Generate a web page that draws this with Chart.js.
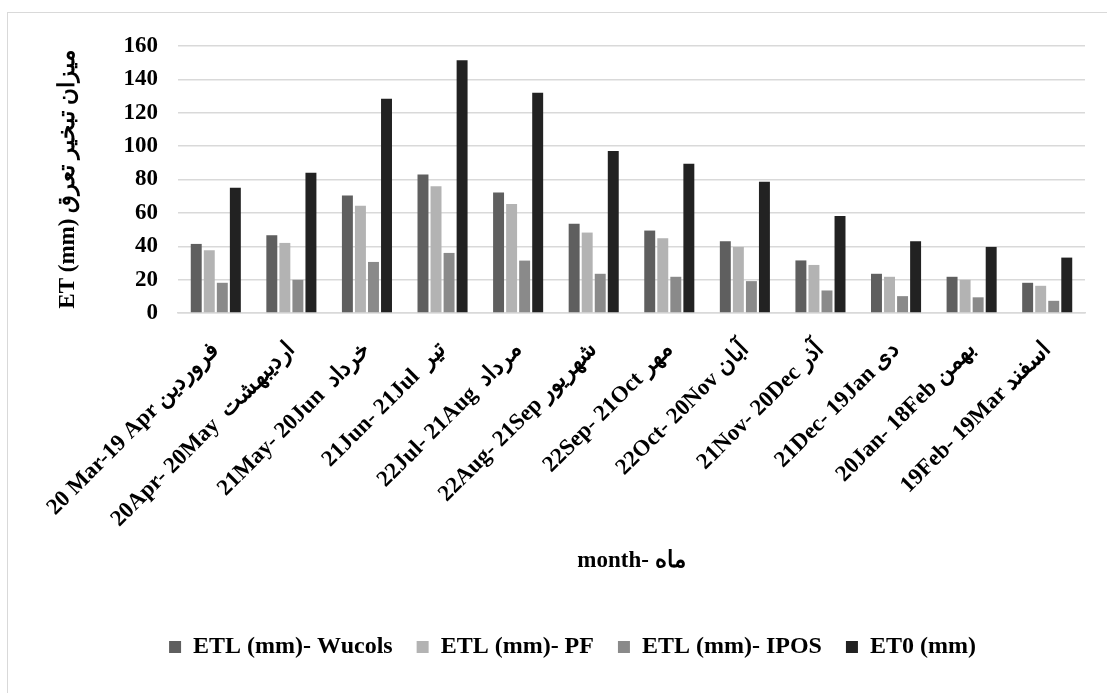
<!DOCTYPE html>
<html>
<head>
<meta charset="utf-8">
<script src="https://cdn.jsdelivr.net/npm/chart.js@4/dist/chart.umd.min.js"></script>
<style>
  html, body { margin: 0; padding: 0; background: #ffffff; overflow: hidden; }
  #wrap { position: relative; width: 1107px; height: 693px; }
  #frame { position: absolute; left: 7px; top: 12px; width: 1120px; height: 700px; border: 1px solid #d9d9d9; box-sizing: border-box; }
  canvas { position: absolute; left: 0; top: 0; }
</style>
</head>
<body>
<div id="wrap">
  <div id="frame"></div>
  <canvas id="c" width="1107" height="693"></canvas>
</div>
<script>
// Monthly evapotranspiration (mm) by Persian calendar month
const months = [
  '20 Mar-19 Apr فروردین',
  '20Apr- 20May  اردیبهشت',
  '21May- 20Jun  خرداد',
  '21Jun- 21Jul  تیر',
  '22Jul- 21Aug  مرداد',
  '22Aug- 21Sep شهریور',
  '22Sep- 21Oct مهر',
  '22Oct- 20Nov آبان',
  '21Nov- 20Dec آذر',
  '21Dec- 19Jan دی',
  '20Jan- 18Feb بهمن',
  '19Feb- 19Mar اسفند'
];
const seriesNames = ['ETL (mm)- Wucols', 'ETL (mm)- PF', 'ETL (mm)- IPOS', 'ET0 (mm)'];
const etlWucols = [41.4, 46.6, 70.4, 83.0, 72.2, 53.5, 49.4, 43.0, 31.5, 23.5, 21.7, 18.1];
const etlPF     = [37.6, 42.0, 64.3, 76.0, 65.3, 48.2, 44.8, 39.6, 28.8, 21.7, 19.9, 16.3];
const etlIPOS   = [18.1, 19.9, 30.6, 36.0, 31.4, 23.5, 21.7, 19.1, 13.5, 10.1, 9.4, 7.3];
const et0       = [75.0, 84.0, 128.4, 151.5, 132.0, 97.1, 89.4, 78.6, 58.1, 43.0, 39.6, 33.2];
const yTicks = [0, 20, 40, 60, 80, 100, 120, 140, 160];
const yTitle = 'ET (mm) میزان تبخیر تعرق';
const xTitle = 'month- ماه';

const seriesColors = ['#5f5f5f', '#b3b3b3', '#8a8a8a', '#222222'];
const FONT = "'Liberation Serif', 'Times New Roman', serif";

// nudge the legend row a little to the right of the canvas centre
const legendShift = {
  id: 'legendShift',
  afterLayout(c) {
    if (c.legend) { c.legend.left += 25; c.legend.right += 25; }
  }
};

const chart = new Chart(document.getElementById('c'), {
  type: 'bar',
  data: {
    labels: months,
    datasets: [etlWucols, etlPF, etlIPOS, et0].map((d, i) => ({
      label: seriesNames[i],
      data: d,
      backgroundColor: seriesColors[i],
      borderWidth: 0,
      categoryPercentage: 0.69,
      barPercentage: 0.84
    }))
  },
  plugins: [legendShift],
  options: {
    responsive: false,
    animation: false,
    devicePixelRatio: 1,
    layout: { padding: { left: 10, top: 46, right: 22, bottom: 24 } },
    plugins: {
      tooltip: { enabled: false },
      legend: {
        position: 'bottom',
        labels: {
          boxWidth: 12,
          boxHeight: 12,
          padding: 24,
          color: '#000',
          font: { family: FONT, size: 24, weight: 'bold' }
        }
      }
    },
    scales: {
      x: {
        grid: { display: false, drawTicks: false },
        border: { display: true, color: '#d9d9d9', width: 1.5 },
        ticks: {
          autoSkip: false,
          maxRotation: 45,
          minRotation: 45,
          padding: 24,
          color: '#000',
          font: { family: FONT, size: 23, weight: 'bold' }
        },
        title: {
          display: true,
          text: xTitle,
          color: '#000',
          padding: { top: 0, bottom: 36 },
          font: { family: FONT, size: 23, weight: 'bold' }
        },
        afterFit: (s) => { s.height = 298; }
      },
      y: {
        min: 0,
        max: 160,
        afterBuildTicks: (s) => { s.ticks = yTicks.map(v => ({ value: v })); },
        grid: { color: '#d9d9d9', lineWidth: 1.5, drawTicks: false },
        border: { display: false },
        ticks: {
          padding: 20,
          color: '#000',
          font: { family: FONT, size: 23, weight: 'bold' }
        },
        title: {
          display: true,
          text: yTitle,
          color: '#000',
          padding: { top: 44, bottom: 0 },
          font: { family: FONT, size: 23, weight: 'bold' }
        },
        afterFit: (s) => { s.width = 168; }
      }
    }
  }
});
</script>
</body>
</html>
